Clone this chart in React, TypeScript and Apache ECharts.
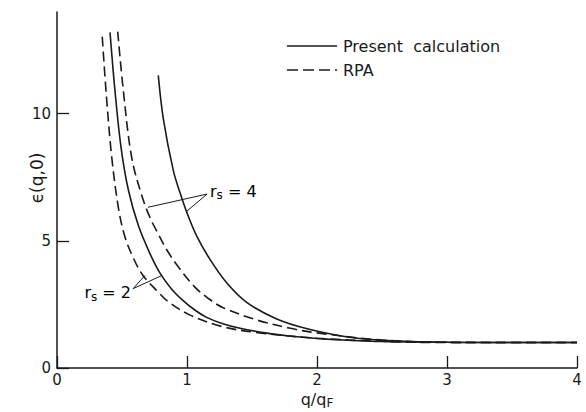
import React, { useEffect, useRef } from "react";
import * as echarts from "echarts";

const xTicks = [0, 1, 2, 3, 4];
const yTicks = [0, 5, 10];

const legendNames = ["Present  calculation", "RPA"];

const presentRs2: [number, number][] = [
  [0.408, 13.2], [0.446, 10.9], [0.492, 8.7], [0.549, 7.0], [0.626, 5.6], [0.715, 4.5],
  [0.79, 3.75], [0.879, 3.12], [0.968, 2.66], [1.06, 2.28], [1.147, 2.0], [1.27, 1.75],
  [1.4, 1.57], [1.6, 1.38], [1.785, 1.26], [2.0, 1.16], [2.17, 1.11], [2.5, 1.04],
  [3.0, 1.01], [4.0, 1.0],
];
const rpaRs2: [number, number][] = [
  [0.348, 13.03], [0.38, 10.7], [0.421, 8.29], [0.472, 6.31], [0.52, 5.2], [0.585, 4.35],
  [0.66, 3.65], [0.776, 3.0], [0.853, 2.62], [1.02, 2.09], [1.27, 1.63], [1.53, 1.4],
  [2.0, 1.17], [2.5, 1.05], [3.0, 1.0], [4.0, 1.0],
];
const rpaRs4: [number, number][] = [
  [0.467, 13.23], [0.51, 10.92], [0.574, 8.29], [0.651, 6.8], [0.715, 5.92], [0.776, 5.3],
  [0.844, 4.65], [0.93, 4.0], [1.057, 3.2], [1.16, 2.75], [1.274, 2.38], [1.53, 1.9],
  [1.785, 1.57], [2.015, 1.37], [2.5, 1.1], [3.0, 1.01], [4.0, 1.0],
];
const presentRs4: [number, number][] = [
  [0.779, 11.51], [0.818, 9.8], [0.895, 7.76], [0.946, 6.9], [1.0, 6.1], [1.075, 5.19],
  [1.177, 4.27], [1.305, 3.35], [1.459, 2.58], [1.69, 1.93], [1.94, 1.52], [2.2, 1.25],
  [2.42, 1.12], [2.78, 1.03], [3.2, 1.0], [4.0, 1.0],
];

// annotation anchors (data coordinates): vertex, end A, end B
const rs4Leader: [number, number][] = [[1.154, 6.84], [0.7, 6.32], [1.0, 6.17]];
const rs2Leader: [number, number][] = [[0.585, 3.12], [0.677, 3.64], [0.808, 3.64]];

const FONT = "DejaVu Sans, Liberation Sans, sans-serif";
const INK = "#1a1a1a";
const DASH = [10, 5];

export default function App() {
  const ref = useRef<HTMLDivElement>(null);
  useEffect(() => {
    document.body.style.margin = "0";
    if (!ref.current) return;
    const chart = echarts.init(ref.current, undefined, { renderer: "svg" });
    const lineSeries = (name: string, data: [number, number][], dashed: boolean) => ({
      type: "line",
      name,
      data,
      smooth: 0.35,
      symbol: "none",
      showSymbol: false,
      lineStyle: { color: INK, width: 1.6, type: dashed ? DASH : "solid" },
      itemStyle: { color: INK },
    });
    chart.setOption({
      animation: false,
      backgroundColor: "#ffffff",
      grid: { left: 57, right: 9, top: 12, bottom: 44, containLabel: false, outerBoundsMode: "none" },
      xAxis: {
        type: "value",
        min: 0,
        max: 4,
        interval: 1,
        name: "{n|q/q}{s|F}",
        nameLocation: "middle",
        nameGap: 21,
        nameMoveOverlap: false,
        nameTextStyle: {
          rich: {
            n: { fontFamily: FONT, fontSize: 16, color: INK },
            s: { fontFamily: FONT, fontSize: 12, color: INK, padding: [8, 0, 0, 0] },
          },
        },
        splitLine: { show: false },
        axisLine: { show: true, lineStyle: { color: INK, width: 1.5 } },
        axisTick: { show: true, inside: true, length: 12, lineStyle: { color: INK, width: 1.3 } },
        axisLabel: {
          fontFamily: FONT,
          fontSize: 15,
          color: INK,
          margin: 4,
          formatter: (v: number) => (xTicks.includes(v) ? String(v) : ""),
        },
      },
      yAxis: {
        type: "value",
        min: 0,
        max: 14,
        name: "ϵ(q,0)",
        nameLocation: "middle",
        nameGap: 12,
        nameMoveOverlap: false,
        nameTextStyle: { fontFamily: FONT, fontSize: 17, color: INK, padding: [0, 0, 0, 24] },
        splitLine: { show: false },
        axisLine: { show: true, lineStyle: { color: INK, width: 1.5 } },
        axisTick: { show: true, inside: true, length: 12, customValues: yTicks, lineStyle: { color: INK, width: 1.3 } },
        axisLabel: {
          fontFamily: FONT,
          fontSize: 15,
          color: INK,
          margin: 6,
          customValues: yTicks,
        },
      },
      series: [
        lineSeries(legendNames[0], presentRs2, false),
        lineSeries(legendNames[1], rpaRs2, true),
        lineSeries(legendNames[1], rpaRs4, true),
        lineSeries(legendNames[0], presentRs4, false),
      ],
    });

    const px = (p: [number, number]) => chart.convertToPixel({ gridIndex: 0 }, p) as number[];
    const leader = (pts: [number, number][]) => {
      const [v, a, b] = pts.map(px);
      return [
        { type: "line", shape: { x1: v[0], y1: v[1], x2: a[0], y2: a[1] }, style: { stroke: INK, lineWidth: 1 } },
        { type: "line", shape: { x1: v[0], y1: v[1], x2: b[0], y2: b[1] }, style: { stroke: INK, lineWidth: 1 } },
      ];
    };
    const v4 = px(rs4Leader[0]);
    const v2 = px(rs2Leader[0]);
    const labelRich = {
      r: { fontFamily: FONT, fontSize: 16, color: INK },
      s: { fontFamily: FONT, fontSize: 12, color: INK, padding: [8, 0, 0, 0] },
    };
    const legendItem = (i: number, y: number) => [
      {
        type: "line",
        shape: { x1: 287, y1: y, x2: 337, y2: y },
        style: { stroke: INK, lineWidth: 1.6, lineDash: i === 1 ? [11, 5] : undefined },
      },
      {
        type: "text",
        x: 343,
        y,
        style: { text: legendNames[i], fontFamily: FONT, fontSize: 16, fill: INK, verticalAlign: "middle", align: "left" },
      },
    ];
    chart.setOption({
      graphic: [
        ...legendItem(0, 46),
        ...legendItem(1, 70),
        ...leader(rs4Leader),
        ...leader(rs2Leader),
        {
          type: "text",
          x: v4[0] + 3,
          y: v4[1] - 3,
          style: { text: "{r|r}{s|s}{r| = 4}", rich: labelRich, verticalAlign: "middle", align: "left" },
        },
        {
          type: "text",
          x: v2[0] - 2,
          y: v2[1] + 4,
          style: { text: "{r|r}{s|s}{r| = 2}", rich: labelRich, verticalAlign: "middle", align: "right" },
        },
      ],
    });
    return () => chart.dispose();
  }, []);
  return <div ref={ref} style={{ width: 586, height: 412 }} />;
}
